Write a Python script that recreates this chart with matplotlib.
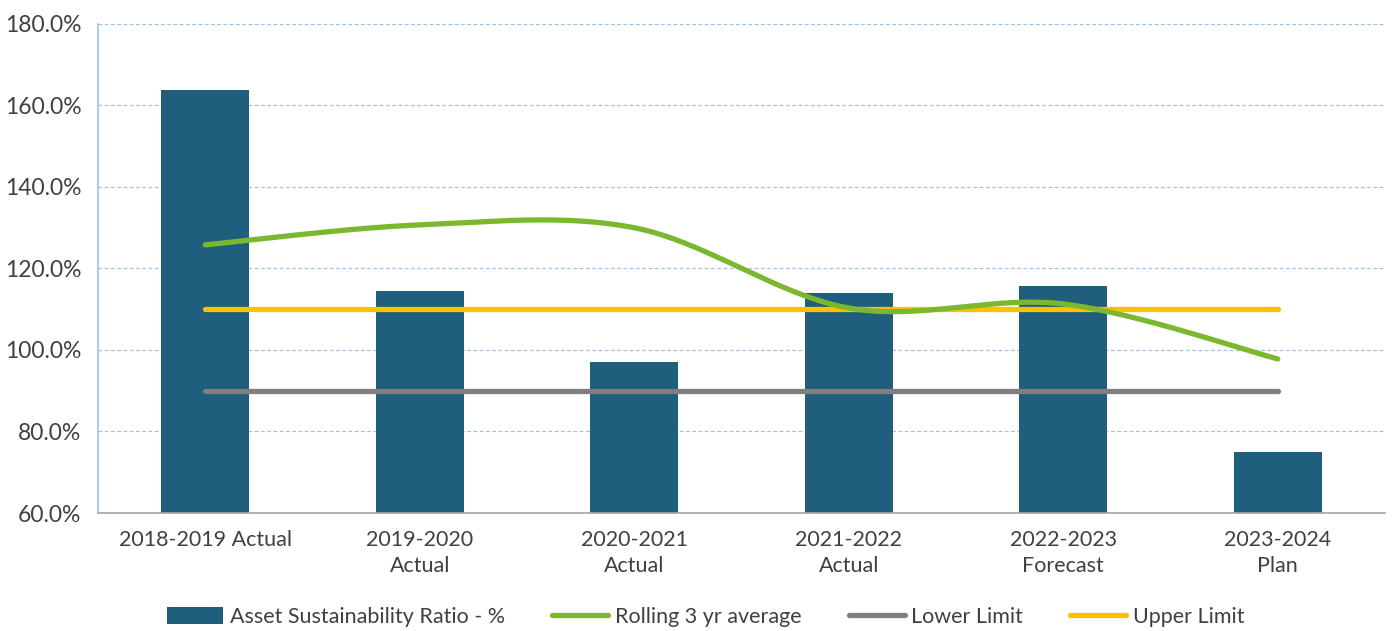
import numpy as np
import matplotlib
matplotlib.use("Agg")
import matplotlib.pyplot as plt
from matplotlib.ticker import FuncFormatter

categories = ["2018-2019 Actual", "2019-2020\nActual", "2020-2021\nActual",
              "2021-2022\nActual", "2022-2023\nForecast", "2023-2024\nPlan"]
asset_ratio = [163.8, 114.5, 97.1, 114.0, 115.7, 75.0]
rolling_avg = [125.8, 130.7, 130.0, 110.3, 111.3, 97.8]
lower_limit = [90.0] * 6
upper_limit = [110.0] * 6

BAR_C = "#1F5E7C"
GREEN = "#7CB82F"
GRAY = "#7F7F7F"
YELLOW = "#FFC000"
TEXT = "#404040"

plt.rcParams['font.family'] = ['Lato', 'DejaVu Sans']

fig = plt.figure(figsize=(13.92, 6.31), dpi=100)
ax = fig.add_axes([0.0704, 0.187, 0.9246, 0.775])

x = np.arange(len(categories))
h_bar = ax.bar(x, asset_ratio, width=0.41, color=BAR_C, zorder=2,
               label="Asset Sustainability Ratio - %")


def smooth(xs, ys, n=40):
    px = np.concatenate([[xs[0]], xs, [xs[-1]]])
    py = np.concatenate([[ys[0]], ys, [ys[-1]]])
    outx, outy = [], []
    for i in range(1, len(px) - 2):
        p0 = np.array([px[i], py[i]])
        p3 = np.array([px[i + 1], py[i + 1]])
        c1 = p0 + (np.array([px[i + 1], py[i + 1]]) - np.array([px[i - 1], py[i - 1]])) / 6
        c2 = p3 - (np.array([px[i + 2], py[i + 2]]) - np.array([px[i], py[i]])) / 6
        t = np.linspace(0, 1, n)[:, None]
        b = ((1 - t) ** 3) * p0 + 3 * ((1 - t) ** 2) * t * c1 + 3 * (1 - t) * t ** 2 * c2 + t ** 3 * p3
        outx.extend(b[:, 0]); outy.extend(b[:, 1])
    return np.array(outx), np.array(outy)


sx, sy = smooth(x.astype(float), np.array(rolling_avg, float))
h_g, = ax.plot(sx, sy, color=GREEN, lw=3.8, solid_capstyle='round', zorder=4,
               label="Rolling 3 yr average")
h_l, = ax.plot(x, lower_limit, color=GRAY, lw=3.8, solid_capstyle='round', zorder=3,
               label="Lower Limit")
h_u, = ax.plot(x, upper_limit, color=YELLOW, lw=3.8, solid_capstyle='round', zorder=3,
               label="Upper Limit")

ax.set_xlim(-0.5, 5.5)
ax.set_ylim(60, 180)
ax.set_yticks(np.arange(60, 181, 20))
ax.yaxis.set_major_formatter(FuncFormatter(lambda v, p: f"{v:.1f}%"))
ax.set_xticks(x)
ax.set_xticklabels(categories, fontsize=15.5, color=TEXT, linespacing=1.42)
ax.tick_params(axis='y', labelsize=16.5, labelcolor=TEXT, length=0, pad=12)
ax.tick_params(axis='x', length=0, pad=12)

ax.grid(axis='y', color="#9DC3E6", linestyle=(0, (3, 2)), lw=0.9, zorder=0)
ax.set_axisbelow(True)
for s in ["top", "right"]:
    ax.spines[s].set_visible(False)
ax.spines["left"].set_color("#9DC3E6")
ax.spines["left"].set_linewidth(1.2)
ax.spines["bottom"].set_color("#A6A6A6")
ax.spines["bottom"].set_linewidth(1.2)

leg = fig.legend([h_bar, h_g, h_l, h_u],
                 ["Asset Sustainability Ratio - %", "Rolling 3 yr average",
                  "Lower Limit", "Upper Limit"],
                 loc="center", bbox_to_anchor=(0.507, 0.022), ncol=4, frameon=False,
                 fontsize=15.5, handlelength=2.6, handleheight=0.8,
                 handletextpad=0.3, columnspacing=2.2, labelcolor=TEXT)

fig.savefig("out.png", dpi=100, facecolor="white")
